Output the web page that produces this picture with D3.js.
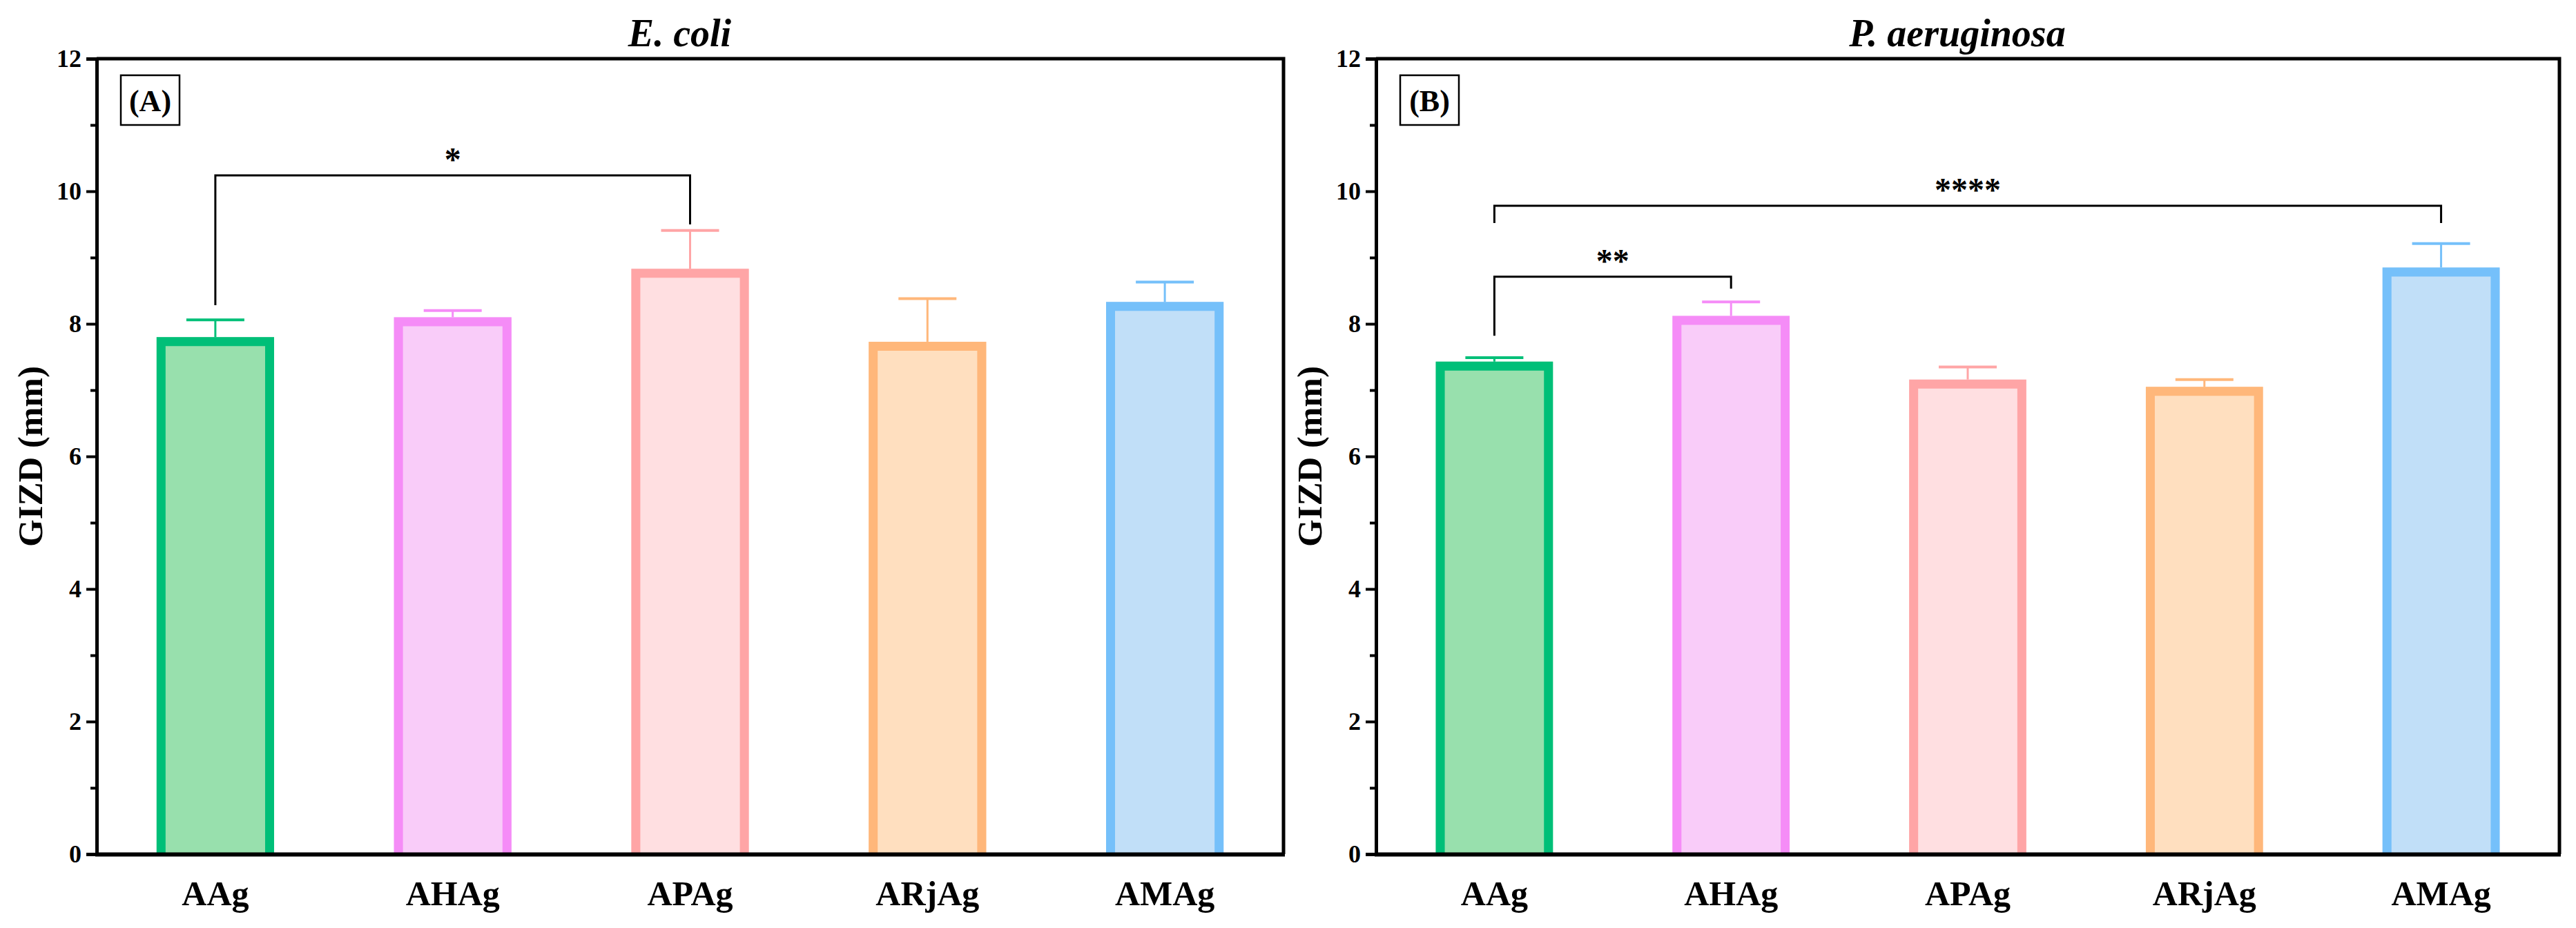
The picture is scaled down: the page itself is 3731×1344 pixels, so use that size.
<!DOCTYPE html>
<html>
<head>
<meta charset="utf-8">
<script src="https://cdn.jsdelivr.net/npm/d3@7"></script>
<style>
  body { margin: 0; background: #fff; }
  text { font-family: "Liberation Serif", "Times New Roman", serif; font-weight: bold; }
</style>
</head>
<body>
<div id="wrapper"></div>
<script>
// values
const categories = ["AAg", "AHAg", "APAg", "ARjAg", "AMAg"];
const ecoliMeans = [7.80, 8.10, 8.83, 7.73, 8.33];
const ecoliErrors = [0.26, 0.10, 0.58, 0.65, 0.30];
const paeruMeans = [7.43, 8.12, 7.16, 7.05, 8.85];
const paeruErrors = [0.06, 0.21, 0.19, 0.11, 0.36];
const yTicks = [0, 2, 4, 6, 8, 10, 12];
const yMinorTicks = [1, 3, 5, 7, 9, 11];
const strokeColors = ["#00bf78", "#f58cf7", "#ffa5a6", "#ffb77a", "#75c0fa"];
const fillColors = ["#98e0ad", "#f9ccf9", "#ffdfe1", "#ffdfbf", "#c1dff8"];
// significance brackets: bar from, bar to, bracket height, leg ends, stars
const ecoliBrackets = [
    { from: "AAg", to: "APAg", top: 10.24, left: 8.28, right: 9.50, label: "*" }
];
const paeruBrackets = [
    { from: "AAg", to: "AHAg", top: 8.71, left: 7.82, right: 8.53, label: "**" },
    { from: "AAg", to: "AMAg", top: 9.78, left: 9.52, right: 9.52, label: "****" }
];

const dimension = { width: 3731, height: 1344, top: 85, bottom: 1237 };

const svg = d3.select("#wrapper").append("svg")
    .attr("width", dimension.width)
    .attr("height", dimension.height);

function drawPanel(opts) {
    const g = svg.append("g");
    const x0 = opts.x0, x1 = opts.x1;

    const yScaler = d3.scaleLinear().domain([0, 12]).range([dimension.bottom, dimension.top]);
    const xScaler = d3.scaleBand().domain(categories).range([x0, x1])
        .paddingInner(0.505).paddingOuter(0.2525);
    const bw = xScaler.bandwidth();
    const sw = 13;

    const data = categories.map((c, i) => ({ c, v: opts.means[i], e: opts.errors[i], i }));

    // bar fills
    g.selectAll(".fill").data(data).join("rect")
        .attr("x", d => xScaler(d.c))
        .attr("width", bw)
        .attr("y", d => yScaler(d.v))
        .attr("height", d => yScaler(0) - yScaler(d.v))
        .attr("fill", d => fillColors[d.i]);

    // bar outlines (open at the bottom)
    g.selectAll(".outline").data(data).join("path")
        .attr("d", d => {
            const l = xScaler(d.c) + sw / 2, r = xScaler(d.c) + bw - sw / 2;
            const t = yScaler(d.v) + sw / 2, b = yScaler(0);
            return `M${l},${b}V${t}H${r}V${b}`;
        })
        .attr("fill", "none")
        .attr("stroke", d => strokeColors[d.i])
        .attr("stroke-width", sw);

    // error bars (upper only)
    g.selectAll(".err").data(data).join("line")
        .attr("x1", d => xScaler(d.c) + bw / 2)
        .attr("x2", d => xScaler(d.c) + bw / 2)
        .attr("y1", d => yScaler(d.v))
        .attr("y2", d => yScaler(d.v + d.e))
        .attr("stroke", d => strokeColors[d.i])
        .attr("stroke-width", 3);
    g.selectAll(".cap").data(data).join("line")
        .attr("x1", d => xScaler(d.c) + bw / 2 - 42)
        .attr("x2", d => xScaler(d.c) + bw / 2 + 42)
        .attr("y1", d => yScaler(d.v + d.e))
        .attr("y2", d => yScaler(d.v + d.e))
        .attr("stroke", d => strokeColors[d.i])
        .attr("stroke-width", 4);

    // significance brackets
    const cx = c => xScaler(c) + bw / 2;
    g.selectAll(".bracket").data(opts.brackets).join("path")
        .attr("d", d => `M${cx(d.from)},${yScaler(d.left)}V${yScaler(d.top)}H${cx(d.to)}V${yScaler(d.right)}`)
        .attr("fill", "none")
        .attr("stroke", "#000")
        .attr("stroke-width", 3);
    g.selectAll(".stars").data(opts.brackets).join("text")
        .attr("x", d => (cx(d.from) + cx(d.to)) / 2)
        .attr("y", d => yScaler(d.top) - 7)
        .attr("text-anchor", "middle")
        .style("font-size", "48px")
        .text(d => d.label);

    // frame top / right
    g.append("path")
        .attr("d", `M${x0},${dimension.top}H${x1}V${dimension.bottom}`)
        .attr("fill", "none")
        .attr("stroke", "#000")
        .attr("stroke-width", 5);

    // y axis
    const yAxis = g.append("g")
        .attr("transform", `translate(${x0},0)`)
        .call(d3.axisLeft(yScaler).tickValues(yTicks).tickSize(15).tickPadding(7).tickFormat(d3.format("d")));
    yAxis.select(".domain").attr("stroke-width", 5);
    yAxis.selectAll(".tick line").attr("stroke-width", 4);
    yAxis.selectAll("text").style("font-size", "36px");
    const yMinor = g.append("g")
        .attr("transform", `translate(${x0},0)`)
        .call(d3.axisLeft(yScaler).tickValues(yMinorTicks).tickSize(9).tickFormat(""));
    yMinor.select(".domain").remove();
    yMinor.selectAll(".tick line").attr("stroke-width", 4);

    // x axis
    const xAxis = g.append("g")
        .attr("transform", `translate(0,${dimension.bottom})`)
        .call(d3.axisBottom(xScaler).tickSize(0).tickPadding(38));
    xAxis.select(".domain").attr("stroke-width", 6)
        .attr("d", `M${x0 - 2},0.5H${x1 + 2}`);
    xAxis.selectAll("text").style("font-size", "50px");

    // y axis title
    g.append("text")
        .attr("transform", `translate(${x0 - 97},${(dimension.top + dimension.bottom) / 2}) rotate(-90)`)
        .attr("text-anchor", "middle")
        .attr("dy", "0.35em")
        .style("font-size", "51px")
        .text("GIZD (mm)");

    // panel title
    g.append("text")
        .attr("x", (x0 + x1) / 2 - 15)
        .attr("y", 67)
        .attr("text-anchor", "middle")
        .style("font-size", "56px")
        .style("font-style", "italic")
        .text(opts.title);

    // panel letter box
    g.append("rect")
        .attr("x", x0 + 35)
        .attr("y", 109)
        .attr("width", 85)
        .attr("height", 72)
        .attr("fill", "none")
        .attr("stroke", "#000")
        .attr("stroke-width", 2.5);
    g.append("text")
        .attr("x", x0 + 77.5)
        .attr("y", 161)
        .attr("text-anchor", "middle")
        .style("font-size", "44px")
        .text(opts.letter);
}

drawPanel({ x0: 140, x1: 1859, means: ecoliMeans, errors: ecoliErrors,
    brackets: ecoliBrackets, title: "E. coli", letter: "(A)" });
drawPanel({ x0: 1993, x1: 3707, means: paeruMeans, errors: paeruErrors,
    brackets: paeruBrackets, title: "P. aeruginosa", letter: "(B)" });
</script>
</body>
</html>
